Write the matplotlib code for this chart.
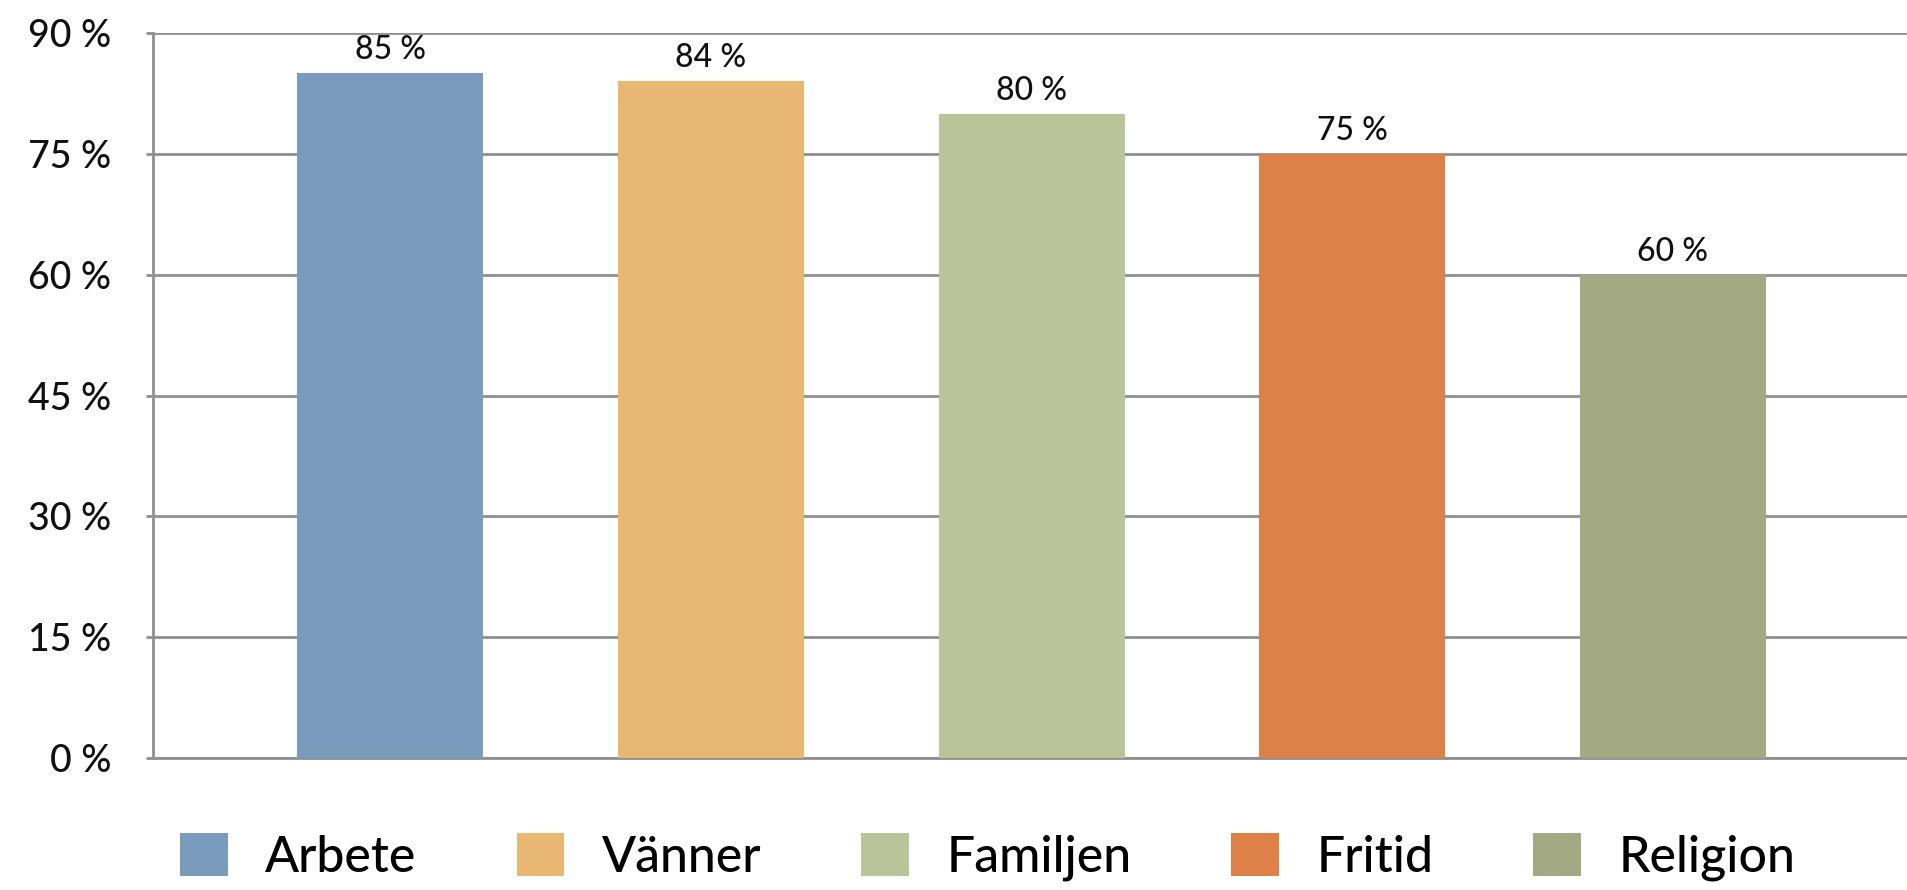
import matplotlib
matplotlib.use("Agg")
import matplotlib.pyplot as plt
from matplotlib.patches import Patch

categories = ["Arbete", "Vänner", "Familjen", "Fritid", "Religion"]
values = [85, 84, 80, 75, 60]
colors = ["#7A9BBB", "#E8B872", "#BBC498", "#DE8149", "#A3A982"]
yticks = [0, 15, 30, 45, 60, 75, 90]
ytick_labels = ["0 %", "15 %", "30 %", "45 %", "60 %", "75 %", "90 %"]

plt.rcParams['font.family'] = ['Lato', 'DejaVu Sans']

W, H = 1907, 890
fig = plt.figure(figsize=(W / 100, H / 100), dpi=100)
ax = fig.add_axes([153 / W, 1 - 758 / H, (W - 153) / W, (758 - 33) / H])

x = list(range(len(categories)))
bars = ax.bar(x, values, width=0.58, color=colors, zorder=3)
for xi, v in zip(x, values):
    ax.text(xi, v + 1.0, f"{v} %", ha="center", va="bottom", fontsize=23,
            color="#111111", fontweight="medium")

ax.set_xlim(-0.74, 4.73)
ax.set_ylim(0, 90)
ax.set_yticks(yticks)
ax.set_yticklabels(ytick_labels, fontsize=27, color="#111111", fontweight="medium")
ax.set_xticks([])
ax.yaxis.grid(True, color="#8f8f8f", linewidth=2.0, zorder=0)
for s in ["top", "right"]:
    ax.spines[s].set_visible(False)
for s in ["left", "bottom"]:
    ax.spines[s].set_color("#8f8f8f")
    ax.spines[s].set_linewidth(2.0)
ax.tick_params(axis="y", length=5, width=2, color="#8f8f8f", pad=25)

handles = [Patch(facecolor=c, edgecolor="none") for c in colors]
fig.legend(handles, categories, loc="center", bbox_to_anchor=(0.518, 1 - 857 / H),
           ncol=5, frameon=False, handlelength=0.95, handleheight=0.95,
           handletextpad=0.75, columnspacing=2.0,
           prop={"size": 36, "weight": "medium"})

fig.savefig("out.png", dpi=100)
